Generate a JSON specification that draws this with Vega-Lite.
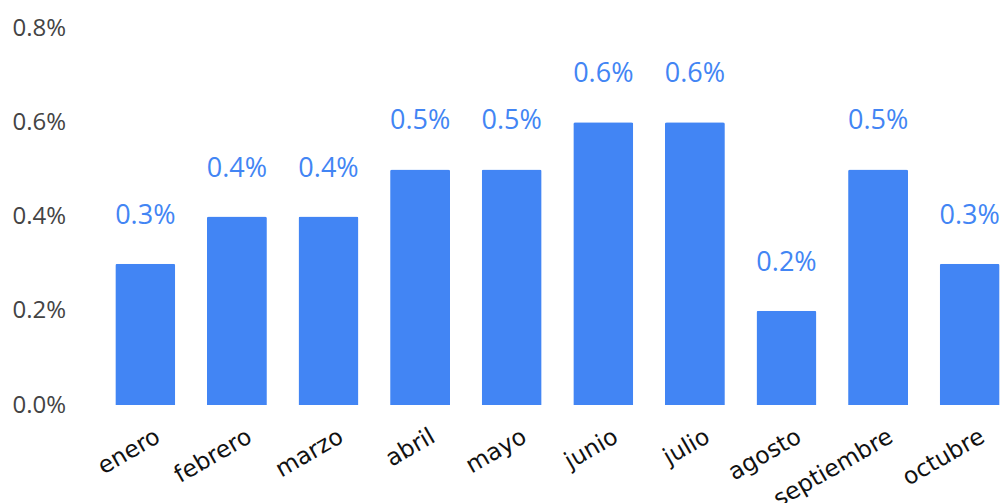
{
  "$schema": "https://vega.github.io/schema/vega-lite/v6.json",
  "autosize": {"type": "none"},
  "width": 895,
  "height": 377,
  "padding": {"left": 110, "top": 28, "right": 0, "bottom": 98},
  "background": "white",
  "config": {"view": {"stroke": null}, "font": "Open Sans"},
  "data": {"values": [
    {"mes": "enero", "valor": 0.003},
    {"mes": "febrero", "valor": 0.004},
    {"mes": "marzo", "valor": 0.004},
    {"mes": "abril", "valor": 0.005},
    {"mes": "mayo", "valor": 0.005},
    {"mes": "junio", "valor": 0.006},
    {"mes": "julio", "valor": 0.006},
    {"mes": "agosto", "valor": 0.002},
    {"mes": "septiembre", "valor": 0.005},
    {"mes": "octubre", "valor": 0.003}
  ]},
  "encoding": {
    "x": {
      "field": "mes", "type": "nominal", "sort": null,
      "scale": {"paddingInner": 0.345, "paddingOuter": 0.058},
      "axis": {"title": null, "domain": false, "ticks": false, "labelAngle": -30, "labelAlign": "right", "labelBaseline": "top", "labelFontSize": 23.5, "labelColor": "#111111", "labelPadding": 19, "labelDx": 13, "labelOffset": 7, "labelFont": "DejaVu Sans"}
    },
    "y": {
      "field": "valor", "type": "quantitative",
      "scale": {"domain": [0, 0.008], "nice": false},
      "axis": {"title": null, "domain": false, "ticks": false, "grid": false, "format": ".1%", "values": [0, 0.002, 0.004, 0.006, 0.008], "labelAlign": "left", "labelPadding": 98, "labelFontSize": 24, "labelColor": "#444444", "labelFont": "Open Sans"}
    }
  },
  "layer": [
    {"mark": {"type": "bar", "color": "#4285F4", "cornerRadiusTopLeft": 2, "cornerRadiusTopRight": 2}},
    {"mark": {"type": "text", "color": "#4285F4", "fontSize": 27, "font": "Open Sans", "baseline": "bottom", "dy": -34},
     "encoding": {"text": {"field": "valor", "type": "quantitative", "format": ".1%"}}}
  ]
}
